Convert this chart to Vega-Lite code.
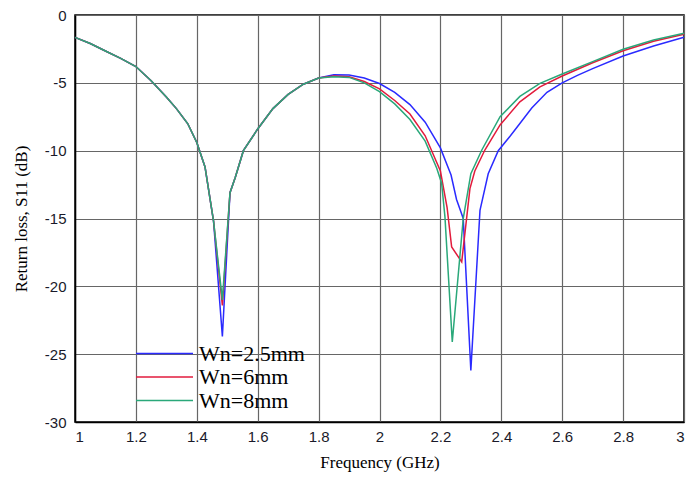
{
  "$schema": "https://vega.github.io/schema/vega-lite/v6.json",
  "width": 609,
  "height": 407,
  "autosize": {"type": "none"},
  "padding": {"left": 75, "top": 15, "right": 7, "bottom": 56},
  "background": "white",
  "config": {
    "view": {"stroke": "black", "strokeWidth": 1.5},
    "axis": {
      "gridColor": "#666666",
      "gridWidth": 1.2,
      "gridOpacity": 1,
      "domainColor": "black",
      "domainWidth": 1.5,
      "ticks": false,
      "labelFont": "Liberation Sans",
      "labelFontSize": 15,
      "labelColor": "#1a1a2a",
      "titleFont": "Liberation Serif",
      "titleFontSize": 17,
      "titleFontWeight": "normal",
      "titleColor": "black"
    }
  },
  "data": {
    "values": [
      {"f": 1.0, "s": -1.65, "series": "Wn=2.5mm"},
      {"f": 1.05, "s": -2.1, "series": "Wn=2.5mm"},
      {"f": 1.1, "s": -2.65, "series": "Wn=2.5mm"},
      {"f": 1.15, "s": -3.2, "series": "Wn=2.5mm"},
      {"f": 1.2, "s": -3.8, "series": "Wn=2.5mm"},
      {"f": 1.25, "s": -4.85, "series": "Wn=2.5mm"},
      {"f": 1.3, "s": -6.05, "series": "Wn=2.5mm"},
      {"f": 1.333, "s": -6.9, "series": "Wn=2.5mm"},
      {"f": 1.37, "s": -8.0, "series": "Wn=2.5mm"},
      {"f": 1.4, "s": -9.4, "series": "Wn=2.5mm"},
      {"f": 1.427, "s": -11.2, "series": "Wn=2.5mm"},
      {"f": 1.455, "s": -15.2, "series": "Wn=2.5mm"},
      {"f": 1.484, "s": -23.7, "series": "Wn=2.5mm"},
      {"f": 1.509, "s": -13.1, "series": "Wn=2.5mm"},
      {"f": 1.526, "s": -12.0, "series": "Wn=2.5mm"},
      {"f": 1.553, "s": -10.0, "series": "Wn=2.5mm"},
      {"f": 1.6, "s": -8.4, "series": "Wn=2.5mm"},
      {"f": 1.65, "s": -6.9, "series": "Wn=2.5mm"},
      {"f": 1.7, "s": -5.85, "series": "Wn=2.5mm"},
      {"f": 1.75, "s": -5.1, "series": "Wn=2.5mm"},
      {"f": 1.8, "s": -4.65, "series": "Wn=2.5mm"},
      {"f": 1.85, "s": -4.4, "series": "Wn=2.5mm"},
      {"f": 1.9, "s": -4.42, "series": "Wn=2.5mm"},
      {"f": 1.95, "s": -4.65, "series": "Wn=2.5mm"},
      {"f": 2.0, "s": -5.05, "series": "Wn=2.5mm"},
      {"f": 2.05, "s": -5.7, "series": "Wn=2.5mm"},
      {"f": 2.1, "s": -6.6, "series": "Wn=2.5mm"},
      {"f": 2.15, "s": -7.9, "series": "Wn=2.5mm"},
      {"f": 2.2, "s": -9.8, "series": "Wn=2.5mm"},
      {"f": 2.235, "s": -11.8, "series": "Wn=2.5mm"},
      {"f": 2.253, "s": -13.6, "series": "Wn=2.5mm"},
      {"f": 2.275, "s": -15.0, "series": "Wn=2.5mm"},
      {"f": 2.3, "s": -26.2, "series": "Wn=2.5mm"},
      {"f": 2.33, "s": -14.4, "series": "Wn=2.5mm"},
      {"f": 2.357, "s": -11.7, "series": "Wn=2.5mm"},
      {"f": 2.39, "s": -10.0, "series": "Wn=2.5mm"},
      {"f": 2.43, "s": -8.9, "series": "Wn=2.5mm"},
      {"f": 2.461, "s": -8.0, "series": "Wn=2.5mm"},
      {"f": 2.5, "s": -6.85, "series": "Wn=2.5mm"},
      {"f": 2.55, "s": -5.7, "series": "Wn=2.5mm"},
      {"f": 2.6, "s": -5.0, "series": "Wn=2.5mm"},
      {"f": 2.65, "s": -4.45, "series": "Wn=2.5mm"},
      {"f": 2.7, "s": -3.95, "series": "Wn=2.5mm"},
      {"f": 2.8, "s": -3.02, "series": "Wn=2.5mm"},
      {"f": 2.9, "s": -2.28, "series": "Wn=2.5mm"},
      {"f": 3.0, "s": -1.64, "series": "Wn=2.5mm"},

      {"f": 1.0, "s": -1.65, "series": "Wn=6mm"},
      {"f": 1.05, "s": -2.1, "series": "Wn=6mm"},
      {"f": 1.1, "s": -2.65, "series": "Wn=6mm"},
      {"f": 1.15, "s": -3.2, "series": "Wn=6mm"},
      {"f": 1.2, "s": -3.8, "series": "Wn=6mm"},
      {"f": 1.25, "s": -4.85, "series": "Wn=6mm"},
      {"f": 1.3, "s": -6.05, "series": "Wn=6mm"},
      {"f": 1.333, "s": -6.9, "series": "Wn=6mm"},
      {"f": 1.37, "s": -8.0, "series": "Wn=6mm"},
      {"f": 1.4, "s": -9.4, "series": "Wn=6mm"},
      {"f": 1.427, "s": -11.2, "series": "Wn=6mm"},
      {"f": 1.455, "s": -15.2, "series": "Wn=6mm"},
      {"f": 1.484, "s": -21.4, "series": "Wn=6mm"},
      {"f": 1.509, "s": -13.1, "series": "Wn=6mm"},
      {"f": 1.526, "s": -12.0, "series": "Wn=6mm"},
      {"f": 1.553, "s": -10.0, "series": "Wn=6mm"},
      {"f": 1.6, "s": -8.4, "series": "Wn=6mm"},
      {"f": 1.65, "s": -6.9, "series": "Wn=6mm"},
      {"f": 1.7, "s": -5.85, "series": "Wn=6mm"},
      {"f": 1.75, "s": -5.1, "series": "Wn=6mm"},
      {"f": 1.8, "s": -4.65, "series": "Wn=6mm"},
      {"f": 1.85, "s": -4.5, "series": "Wn=6mm"},
      {"f": 1.9, "s": -4.55, "series": "Wn=6mm"},
      {"f": 1.95, "s": -4.9, "series": "Wn=6mm"},
      {"f": 2.0, "s": -5.45, "series": "Wn=6mm"},
      {"f": 2.05, "s": -6.3, "series": "Wn=6mm"},
      {"f": 2.1, "s": -7.3, "series": "Wn=6mm"},
      {"f": 2.15, "s": -8.9, "series": "Wn=6mm"},
      {"f": 2.2, "s": -11.5, "series": "Wn=6mm"},
      {"f": 2.222, "s": -14.2, "series": "Wn=6mm"},
      {"f": 2.237, "s": -17.1, "series": "Wn=6mm"},
      {"f": 2.27, "s": -18.2, "series": "Wn=6mm"},
      {"f": 2.297, "s": -12.8, "series": "Wn=6mm"},
      {"f": 2.313, "s": -11.5, "series": "Wn=6mm"},
      {"f": 2.346, "s": -9.95, "series": "Wn=6mm"},
      {"f": 2.396, "s": -8.1, "series": "Wn=6mm"},
      {"f": 2.461, "s": -6.4, "series": "Wn=6mm"},
      {"f": 2.527, "s": -5.3, "series": "Wn=6mm"},
      {"f": 2.6, "s": -4.5, "series": "Wn=6mm"},
      {"f": 2.7, "s": -3.52, "series": "Wn=6mm"},
      {"f": 2.8, "s": -2.63, "series": "Wn=6mm"},
      {"f": 2.9, "s": -1.94, "series": "Wn=6mm"},
      {"f": 3.0, "s": -1.42, "series": "Wn=6mm"},

      {"f": 1.0, "s": -1.65, "series": "Wn=8mm"},
      {"f": 1.05, "s": -2.1, "series": "Wn=8mm"},
      {"f": 1.1, "s": -2.65, "series": "Wn=8mm"},
      {"f": 1.15, "s": -3.2, "series": "Wn=8mm"},
      {"f": 1.2, "s": -3.8, "series": "Wn=8mm"},
      {"f": 1.25, "s": -4.85, "series": "Wn=8mm"},
      {"f": 1.3, "s": -6.05, "series": "Wn=8mm"},
      {"f": 1.333, "s": -6.9, "series": "Wn=8mm"},
      {"f": 1.37, "s": -8.0, "series": "Wn=8mm"},
      {"f": 1.4, "s": -9.4, "series": "Wn=8mm"},
      {"f": 1.427, "s": -11.2, "series": "Wn=8mm"},
      {"f": 1.455, "s": -15.2, "series": "Wn=8mm"},
      {"f": 1.484, "s": -21.0, "series": "Wn=8mm"},
      {"f": 1.509, "s": -13.1, "series": "Wn=8mm"},
      {"f": 1.526, "s": -12.0, "series": "Wn=8mm"},
      {"f": 1.553, "s": -10.0, "series": "Wn=8mm"},
      {"f": 1.6, "s": -8.4, "series": "Wn=8mm"},
      {"f": 1.65, "s": -6.9, "series": "Wn=8mm"},
      {"f": 1.7, "s": -5.85, "series": "Wn=8mm"},
      {"f": 1.75, "s": -5.1, "series": "Wn=8mm"},
      {"f": 1.8, "s": -4.65, "series": "Wn=8mm"},
      {"f": 1.85, "s": -4.55, "series": "Wn=8mm"},
      {"f": 1.9, "s": -4.6, "series": "Wn=8mm"},
      {"f": 1.95, "s": -5.0, "series": "Wn=8mm"},
      {"f": 2.0, "s": -5.65, "series": "Wn=8mm"},
      {"f": 2.05, "s": -6.55, "series": "Wn=8mm"},
      {"f": 2.1, "s": -7.7, "series": "Wn=8mm"},
      {"f": 2.15, "s": -9.3, "series": "Wn=8mm"},
      {"f": 2.188, "s": -11.3, "series": "Wn=8mm"},
      {"f": 2.204, "s": -12.4, "series": "Wn=8mm"},
      {"f": 2.215, "s": -14.9, "series": "Wn=8mm"},
      {"f": 2.239, "s": -24.1, "series": "Wn=8mm"},
      {"f": 2.275, "s": -15.0, "series": "Wn=8mm"},
      {"f": 2.3, "s": -11.7, "series": "Wn=8mm"},
      {"f": 2.336, "s": -9.95, "series": "Wn=8mm"},
      {"f": 2.396, "s": -7.5, "series": "Wn=8mm"},
      {"f": 2.461, "s": -6.0, "series": "Wn=8mm"},
      {"f": 2.527, "s": -5.04, "series": "Wn=8mm"},
      {"f": 2.6, "s": -4.35, "series": "Wn=8mm"},
      {"f": 2.7, "s": -3.44, "series": "Wn=8mm"},
      {"f": 2.8, "s": -2.53, "series": "Wn=8mm"},
      {"f": 2.9, "s": -1.84, "series": "Wn=8mm"},
      {"f": 3.0, "s": -1.35, "series": "Wn=8mm"}
    ]
  },
  "mark": {"type": "line", "strokeWidth": 1.5, "interpolate": "linear"},
  "encoding": {
    "x": {
      "field": "f",
      "type": "quantitative",
      "scale": {"domain": [1, 3], "nice": false, "zero": false},
      "axis": {
        "values": [1, 1.2, 1.4, 1.6, 1.8, 2, 2.2, 2.4, 2.6, 2.8, 3],
        "format": "~g",
        "labelPadding": 7,
        "title": "Frequency (GHz)",
        "titlePadding": 10
      }
    },
    "y": {
      "field": "s",
      "type": "quantitative",
      "scale": {"domain": [-30, 0], "nice": false, "zero": false},
      "axis": {
        "values": [-30, -25, -20, -15, -10, -5, 0],
        "labelExpr": "toString(datum.value)",
        "labelPadding": 9,
        "title": "Return loss, S11 (dB)",
        "titlePadding": 14
      }
    },
    "color": {
      "field": "series",
      "type": "nominal",
      "scale": {
        "domain": ["Wn=2.5mm", "Wn=6mm", "Wn=8mm"],
        "range": ["#2a2aff", "#e21b3c", "#2aa87a"]
      },
      "legend": {
        "orient": "none",
        "legendX": 60,
        "legendY": 328,
        "title": null,
        "padding": 0,
        "offset": 0,
        "symbolType": "stroke",
        "symbolSize": 3249,
        "symbolStrokeWidth": 1.5,
        "clipHeight": 21,
        "labelFont": "Liberation Serif",
        "labelFontSize": 22,
        "labelColor": "black",
        "labelOffset": 5,
        "rowPadding": 0.5
      }
    }
  }
}
